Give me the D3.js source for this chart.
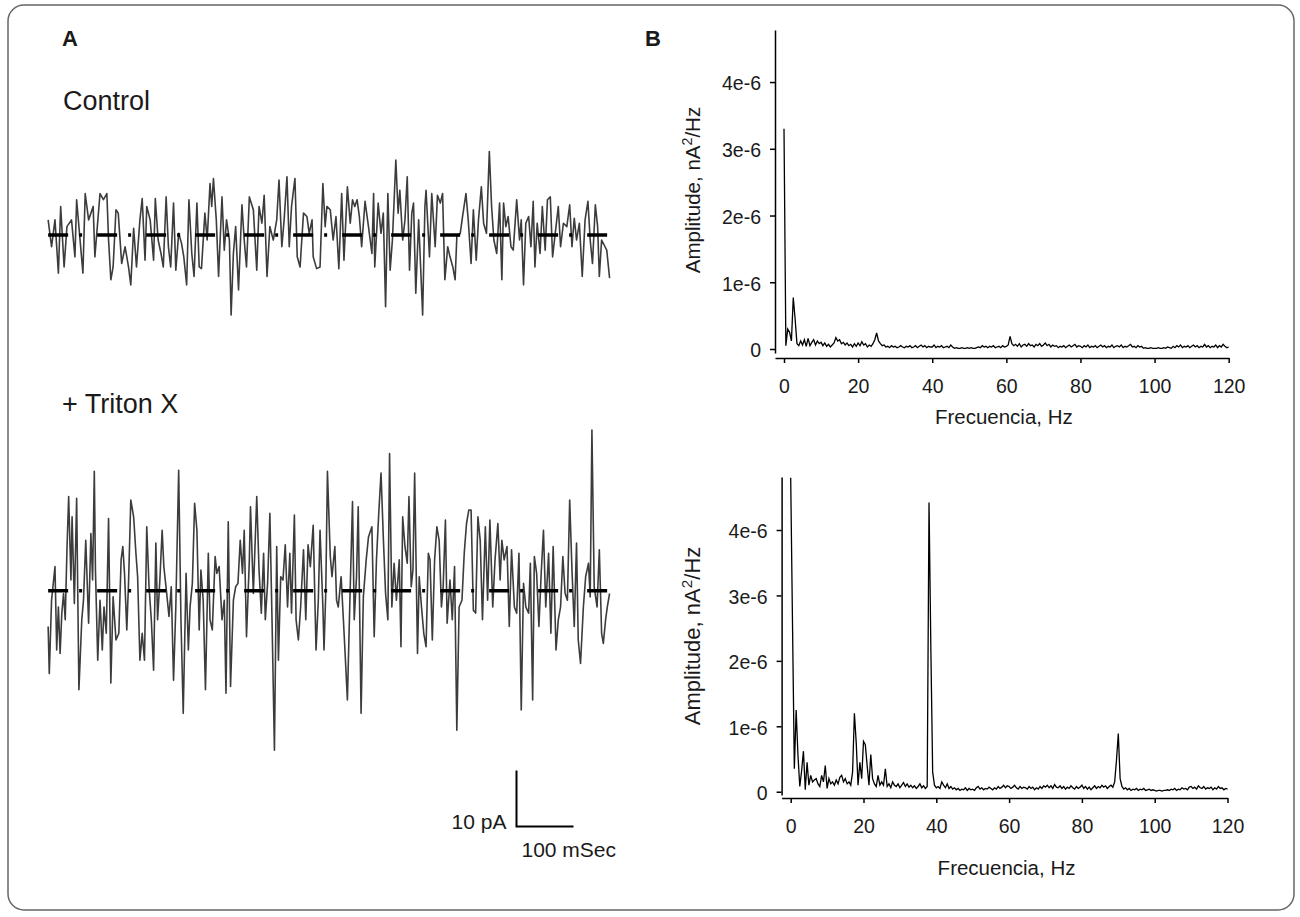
<!DOCTYPE html>
<html><head><meta charset="utf-8">
<script src="https://cdn.jsdelivr.net/npm/d3@7"></script>
<style>
html,body{margin:0;padding:0;background:#fff;}
svg{display:block;font-family:"Liberation Sans",Arial,sans-serif;}
</style></head>
<body>
<svg id="fig" width="1300" height="917"></svg>
<script>
// ---------- DATA ----------
// Panel A: current traces, [time ms, current pA]
const controlTrace = [[2,2.7],[8,-2.1],[14,2.7],[20,-6.8],[24,5.1],[30,-5.7],[35,1.5],[43,2.7],[49,-3.9],[52,6.3],[58,-0.9],[63,-6.8],[67,7.4],[73,2.7],[81,5.1],[84,-3.9],[93,7.4],[99,6.3],[105,7.4],[108,-0.9],[112,-8.0],[116,-5.7],[121,4.5],[125,3.9],[131,-5.1],[137,-2.1],[143,-5.7],[147,-8.9],[152,1.2],[157,-5.7],[163,2.7],[167,6.5],[172,-4.5],[175,5.1],[181,2.7],[187,-4.5],[190,6.5],[195,-0.9],[200,-3.3],[204,-5.7],[209,6.8],[213,-2.1],[217,-5.7],[222,5.7],[226,-6.3],[231,0.3],[236,-1.5],[240,-3.9],[245,-8.9],[249,6.3],[254,-3.3],[258,-7.4],[263,5.7],[267,-5.7],[271,-6.0],[277,3.9],[281,-0.9],[286,9.2],[289,5.1],[292,10.1],[297,2.7],[301,-7.4],[307,6.8],[311,-2.7],[315,2.7],[320,-0.9],[323,-14.3],[327,-3.3],[331,1.5],[336,-9.8],[342,5.4],[346,-0.9],[350,-5.7],[355,6.8],[362,4.5],[368,-6.3],[372,5.1],[377,2.1],[381,7.1],[386,-7.4],[391,1.5],[397,-0.9],[403,2.7],[407,9.8],[412,-2.1],[416,2.7],[421,10.4],[425,-2.1],[429,5.1],[435,10.1],[439,-3.9],[444,-5.7],[450,3.9],[456,3.3],[460,0.3],[465,2.7],[467,-3.9],[473,-6.0],
[479,-5.7],[484,9.2],[488,1.5],[491,5.1],[497,4.5],[502,-0.9],[507,3.3],[512,-6.0],[517,7.4],[521,-4.5],[527,8.6],[532,2.1],[536,6.3],[540,5.1],[544,6.3],[548,3.3],[552,-2.1],[558,6.0],[564,1.5],[570,-3.3],[573,7.4],[575,-5.7],[581,5.7],[586,0.3],[590,3.9],[594,-12.8],[598,7.4],[602,-6.3],[606,-0.9],[612,13.4],[616,3.9],[619,8.0],[624,-0.9],[628,2.7],[632,10.4],[636,-6.3],[640,3.9],[643,5.7],[647,-10.4],[652,2.7],[654,-2.1],[659,-14.3],[663,5.1],[665,8.0],[671,-3.9],[675,7.4],[681,-2.1],[685,7.1],[690,5.7],[694,7.4],[698,-8.0],[703,-2.1],[707,-3.9],[712,-5.7],[716,-8.0],[719,-0.3],[725,0.3],[729,3.3],[735,7.4],[739,2.7],[744,-5.1],[748,4.5],[753,-4.5],[757,2.7],[762,8.6],[766,2.1],[771,0.3],[776,14.9],[780,5.1],[784,-0.9],[789,-3.3],[794,5.7],[798,-8.0],[801,5.7],[805,1.5],[809,3.3],[814,-2.1],[818,-2.7],[824,6.3],[829,-0.9],[832,2.7],[836,-8.9],[840,2.1],[845,3.3],[849,-2.1],[853,6.0],[856,-5.7],[860,2.1],[865,-3.3],[869,5.1],[874,-2.7],[878,6.3],[883,6.8],[887,-3.9],[891,-0.3],[897,5.1],[901,-2.1],[906,2.1],[912,1.5],[917,5.4],[921,-2.1],[925,3.0],[929,-0.9],[934,2.1],[939,-7.4],[944,2.7],[949,6.0],[953,-0.9],[957,-5.1],[962,5.4],[966,1.5],[969,-7.4],[973,-0.9],[979,-2.1],[982,-2.7],[987,-7.7]];

const tritonTrace = [[2,-6.4],[4,-14.8],[8,-1.7],[14,4.3],[17,-10.6],[20,-2.9],[23,-11.2],[26,-4.0],[29,-0.5],[32,-5.2],[35,7.3],[38,16.8],[42,1.9],[44,13.2],[48,-2.3],[52,16.5],[56,-17.7],[61,-5.2],[64,-1.7],[68,9.0],[73,-5.8],[77,10.2],[80,1.9],[83,21.3],[85,3.7],[89,-12.4],[93,-1.7],[97,-10.6],[100,-2.9],[104,-7.6],[108,12.9],[112,-16.5],[116,-1.1],[121,-8.8],[126,-7.6],[130,5.5],[133,7.9],[136,3.1],[140,-7.0],[143,1.3],[147,16.2],[152,13.2],[156,6.7],[159,2.5],[163,-12.4],[167,-7.6],[171,-12.4],[175,11.4],[179,0.7],[183,-5.2],[187,-14.2],[191,8.5],[194,-5.2],[198,1.9],[202,10.8],[205,4.3],[210,-0.5],[214,-4.6],[218,0.7],[222,-16.0],[226,-2.9],[231,21.5],[235,-5.2],[239,-21.9],[244,3.1],[248,-10.6],[251,-2.9],[255,1.3],[259,15.6],[263,10.8],[267,-7.0],[270,3.7],[274,-1.7],[278,-17.7],[283,6.7],[286,-5.2],[290,-7.0],[295,6.1],[298,3.1],[302,4.3],[307,-5.2],[311,-1.7],[314,-18.3],[318,12.3],[322,-17.1],[327,-1.7],[331,0.7],[335,1.3],[339,9.0],[343,3.1],[346,10.8],[350,-8.2],[355,5.5],[357,15.0],[362,-0.5],[368,16.8],[372,3.7],[376,-4.0],[380,6.7],[383,-5.2],[387,1.3],[391,13.8],[395,-6.4],[399,-28.5],[403,7.9],[406,-12.4],[410,2.5],[414,1.9],[418,8.2],[422,-2.9],[426,6.7],[429,-4.0],[434,13.5],[437,-5.2],[441,-8.8],[445,-2.9],[450,7.3],[454,-5.2],[458,8.2],[462,4.3],[467,11.7],[472,-10.6],[476,-1.7],
[479,10.8],[484,-2.9],[486,-10.6],[489,-0.5],[492,21.3],[497,6.1],[500,2.5],[505,7.9],[508,-1.7],[511,-2.9],[516,2.5],[520,-5.2],[523,-11.2],[527,-19.5],[532,0.7],[536,15.9],[539,-5.2],[543,2.5],[546,15.0],[551,-21.9],[555,-1.1],[560,5.5],[564,9.6],[570,11.4],[574,-8.2],[578,5.5],[582,13.8],[586,21.0],[590,9.6],[594,-0.5],[598,-5.2],[601,24.5],[605,-2.9],[609,4.9],[613,-1.7],[618,5.5],[621,-10.0],[624,13.2],[628,7.9],[632,4.9],[635,16.8],[639,0.7],[642,3.7],[645,21.0],[650,-11.2],[653,2.5],[657,-2.9],[661,-7.6],[665,-10.0],[669,6.7],[672,5.5],[676,-8.8],[680,5.5],[684,11.4],[688,9.0],[692,-2.9],[695,0.7],[699,12.6],[702,-5.8],[707,1.9],[711,-5.2],[715,4.3],[719,-24.9],[723,-2.9],[728,-1.7],[732,6.7],[736,12.0],[740,14.4],[744,14.4],[748,-3.5],[752,-4.0],[756,13.2],[760,9.0],[764,-5.2],[769,11.4],[773,-1.7],[777,12.6],[782,-2.9],[786,5.5],[791,12.0],[795,1.9],[798,9.0],[802,5.5],[807,7.9],[811,-6.4],[815,7.3],[820,-2.9],[824,-4.0],[828,6.7],[832,-21.3],[836,1.3],[840,-2.9],[845,-4.0],[848,4.9],[852,-19.5],[855,6.1],[859,3.1],[863,-6.4],[867,3.1],[871,10.8],[875,-2.9],[880,6.7],[884,-7.6],[888,7.9],[893,-10.6],[897,-5.2],[901,-2.9],[905,6.1],[909,-0.5],[913,-1.7],[917,16.2],[921,3.7],[925,-6.4],[929,8.5],[932,-8.8],[936,-13.0],[941,-2.9],[945,2.5],[950,4.9],[953,-1.1],[956,28.7],[960,0.7],[965,-2.9],[969,7.3],[973,-7.6],[976,-9.4],[980,-5.2],[983,-2.9],[987,-0.5]];

// Panel B: amplitude spectra, units of 1e-8 nA^2/Hz, 0..120 Hz every 0.5 Hz
const freqStep = 0.5;
const controlSpectrum = [
330,5,30,25,12,77,45,8,5,12,
6,14,4,16,5,10,14,6,12,8,
10,5,9,4,7,3,6,9,17,12,
14,8,10,6,9,5,7,3,8,4,
9,5,11,6,8,3,6,4,8,14,
24,12,8,5,6,3,4,2,5,3,
4,2,3,5,3,2,4,3,5,2,
3,5,2,4,6,3,5,2,4,3,
3,6,2,4,3,5,2,3,4,2,
6,3,1,2,1,1,2,1,1,2,
1,2,1,1,2,3,2,5,3,4,
2,4,3,5,2,3,4,2,5,3,
4,6,19,8,5,7,4,8,3,6,
7,4,8,5,6,3,7,5,8,4,
6,9,5,7,3,6,4,5,2,4,
3,5,2,4,6,3,5,7,3,5,
4,2,5,3,6,2,4,3,5,2,
4,6,3,5,2,4,3,6,2,4,
5,3,6,2,4,3,5,7,3,4,
2,5,3,4,1,2,1,1,2,1,
1,1,2,1,1,2,1,3,2,1,
4,2,5,3,6,2,4,3,5,2,
4,6,3,5,2,4,3,7,3,5,
2,4,3,6,2,5,3,7,4,2,
3];
const tritonSpectrum = [
480,255,35,125,55,8,32,62,3,45,
10,25,15,18,20,12,8,25,15,40,
5,20,12,15,10,18,12,22,25,15,
20,12,15,10,30,120,75,10,45,20,
77,72,40,10,57,20,12,8,25,10,
15,10,35,8,12,6,15,10,8,12,
6,10,14,8,12,7,10,6,9,5,
8,12,6,9,5,8,442,220,30,10,
6,8,5,15,10,6,12,5,8,4,
6,3,5,2,4,3,6,2,5,3,
4,2,6,8,4,6,3,5,4,7,
5,3,6,4,8,5,7,10,6,9,
8,5,7,10,6,4,8,5,7,6,
4,8,5,7,3,6,4,8,5,9,
7,10,6,9,5,11,7,6,9,5,
8,4,7,5,9,6,4,8,5,7,
10,5,8,4,7,3,6,9,5,8,
6,10,7,9,5,8,10,7,15,48,
89,20,8,4,6,3,5,2,4,3,
5,2,4,3,5,2,3,4,2,3,
2,1,2,2,1,2,2,3,2,4,
3,5,2,4,3,6,4,5,3,7,
8,5,7,4,9,6,5,8,4,6,
5,7,3,6,4,8,5,6,3,5,
4];
const yTicks = [0,100,200,300,400];
const xTicks = [0,20,40,60,80,100,120];
const yTickLabels = ["0","1e-6","2e-6","3e-6","4e-6"];

// ---------- DRAW ----------
const svg = d3.select("#fig");
const FONT = '"Liberation Sans",Arial,sans-serif';
const TXT = "#1a1a1a";

svg.append("rect").attr("x",8).attr("y",5).attr("width",1286).attr("height",905)
  .attr("rx",16).attr("ry",16).attr("fill","none").attr("stroke","#666").attr("stroke-width",1.5);

function label(x,y,txt,size,opts={}){
  const t = svg.append("text").attr("x",x).attr("y",y).attr("font-size",size)
    .attr("fill",TXT).attr("font-family",FONT).text(txt);
  if(opts.bold) t.attr("font-weight","bold");
  if(opts.anchor) t.attr("text-anchor",opts.anchor);
  return t;
}
label(62,46,"A",22,{bold:true});
label(645,46,"B",22,{bold:true});
label(63,110,"Control",27);
label(62,413,"+ Triton X",27);

// Traces
const xT = d3.scaleLinear().domain([0,1000]).range([47,617]);
function drawTrace(data, y){
  const line = d3.line().x(d=>xT(d[0])).y(d=>y(d[1]));
  svg.append("path").datum(data).attr("d",line).attr("fill","none")
    .attr("stroke","#3c3c3c").attr("stroke-width",1.6).attr("stroke-linejoin","round");
  const ext = d3.extent(data,d=>d[0]);
  svg.append("line").attr("x1",xT(ext[0])).attr("x2",xT(ext[1]-4))
    .attr("y1",y(0)).attr("y2",y(0)).attr("stroke","#000").attr("stroke-width",3.5)
    .attr("stroke-dasharray","20,11,3,15");
}
const yTop = d3.scaleLinear().domain([-15,15]).range([319,151]);
const yBot = d3.scaleLinear().domain([-30,30]).range([758.7,422.7]);
drawTrace(controlTrace, yTop);
drawTrace(tritonTrace, yBot);

// scale bar: 10 pA, 100 ms
const sbX = 516.5, sbY = 826.5;
const sbH = yBot(0)-yBot(10), sbW = xT(100)-xT(0);
svg.append("path").attr("d",`M${sbX},${sbY-sbH}V${sbY}H${sbX+sbW}`)
  .attr("fill","none").attr("stroke","#000").attr("stroke-width",2);
label(sbX-10,sbY+2,"10 pA",21,{anchor:"end"});
label(sbX+5,sbY+30,"100 mSec",21);

// Spectra
function drawSpectrum(data, cfg){
  const x = d3.scaleLinear().domain(cfg.xd).range(cfg.xr);
  const y = d3.scaleLinear().domain(cfg.yd).range(cfg.yr);
  const g = svg.append("g");
  const line = d3.line().x((d,i)=>x(i*freqStep)).y(d=>y(Math.min(d,cfg.yd[1])));
  g.append("path").datum(data).attr("d",line).attr("fill","none")
    .attr("stroke","#000").attr("stroke-width",1.3).attr("stroke-linejoin","miter");
  const ya = d3.axisLeft(y).tickValues(yTicks).tickSize(5).tickSizeOuter(0).tickPadding(9)
    .tickFormat((d,i)=>yTickLabels[i]);
  const ga = g.append("g").attr("transform",`translate(${cfg.xr[0]},0)`).call(ya);
  const xa = d3.axisBottom(x).tickValues(xTicks).tickSize(5).tickSizeOuter(0).tickPadding(16);
  const gx = g.append("g").attr("transform",`translate(0,${cfg.xAxisY})`).call(xa);
  [ga,gx].forEach(a=>{
    a.selectAll("path,line").attr("stroke","#000").attr("stroke-width",1.5);
    a.selectAll("text").attr("font-size",19.5).attr("font-family",FONT).attr("fill",TXT);
  });
  ga.selectAll("text").attr("dy","0.4em");
  svg.append("text").attr("x",(cfg.xr[0]+cfg.xr[1])/2+2).attr("y",cfg.xTitleY)
    .attr("text-anchor","middle").attr("font-size",20.5).attr("fill",TXT).attr("font-family",FONT)
    .text("Frecuencia, Hz");
  const yt = svg.append("text").attr("transform",`translate(${cfg.yTitleX},${cfg.yTitleY}) rotate(-90)`)
    .attr("text-anchor","middle").attr("font-size",cfg.yTitleSize).attr("fill",TXT).attr("font-family",FONT);
  yt.append("tspan").text("Amplitude, nA");
  yt.append("tspan").attr("font-size",cfg.yTitleSize*0.7).attr("dy","-0.55em").text("2");
  yt.append("tspan").attr("dy","0.4em").text("/Hz");
}
drawSpectrum(controlSpectrum,{xd:[-2.43,120],xr:[775,1228.7],yd:[-6,478],yr:[353,30],
  xAxisY:358,xTitleY:424,yTitleX:700,yTitleY:190,yTitleSize:20.5});
drawSpectrum(tritonSpectrum,{xd:[-2.5,120],xr:[781.6,1227.5],yd:[-5,481],yr:[795,477],
  xAxisY:798,xTitleY:875,yTitleX:700,yTitleY:636,yTitleSize:22});
</script>
</body></html>
